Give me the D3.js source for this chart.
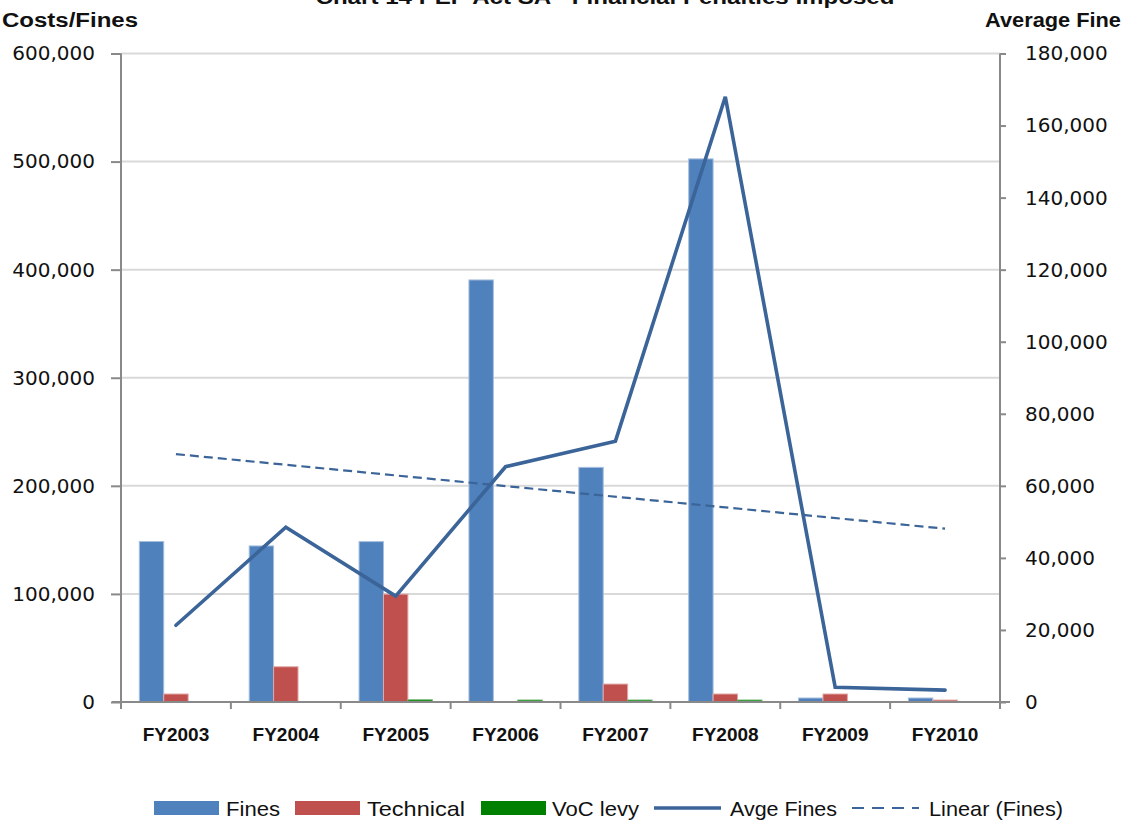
<!DOCTYPE html>
<html>
<head>
<meta charset="utf-8">
<script src="https://cdn.jsdelivr.net/npm/d3@7/dist/d3.min.js"></script>
<style>
  html, body { margin: 0; padding: 0; background: #fff; }
  svg { display: block; }
</style>
</head>
<body>
<svg id="chart" width="1127" height="825"></svg>
<script>
// Financial penalties by financial year
const categories = ["FY2003", "FY2004", "FY2005", "FY2006", "FY2007", "FY2008", "FY2009", "FY2010"];
const fines      = [148500, 144400, 148400, 390500, 217100, 502500, 3700, 3700];
const technical  = [7400, 32600, 99800, 0, 16600, 7400, 7400, 1800];
const vocLevy    = [0, 0, 2000, 1800, 1800, 1800, 0, 0];
const avgeFines  = [21300, 48500, 29400, 65300, 72400, 168000, 4100, 3300];
const leftTicks  = [0, 100000, 200000, 300000, 400000, 500000, 600000];
const rightTicks = [0, 20000, 40000, 60000, 80000, 100000, 120000, 140000, 160000, 180000];

const svg = d3.select("#chart");
const plot = { left: 121, right: 1000, top: 53.5, bottom: 702 };

const x = d3.scaleBand().domain(categories).range([plot.left, plot.right]);
const yL = d3.scaleLinear().domain([0, 600000]).range([plot.bottom, plot.top]);
const yR = d3.scaleLinear().domain([0, 180000]).range([plot.bottom, plot.top]);

const fmt = d3.format(",");
const axisGrey = "#898989";
const lineBlue = "#3B6498";

// Horizontal gridlines
svg.append("g").selectAll("line").data(leftTicks.filter(d => d > 0)).join("line")
  .attr("x1", plot.left).attr("x2", plot.right)
  .attr("y1", d => yL(d)).attr("y2", d => yL(d))
  .attr("stroke", "#D9D9D9").attr("stroke-width", 2);

// Clustered bars
const seriesList = [
  { name: "Fines", values: fines, fill: "#4F81BD", stroke: "#A7BFDE" },
  { name: "Technical", values: technical, fill: "#C0504D", stroke: "#E2A8A6" },
  { name: "VoC levy", values: vocLevy, fill: "#008000", stroke: "#66B266" }
];
const barW = x.bandwidth() / 4.5;
const groupOffset = (x.bandwidth() - barW * seriesList.length) / 2;
seriesList.forEach((s, si) => {
  svg.append("g").selectAll("rect").data(categories.map((c, i) => ({ c, v: s.values[i] })).filter(d => d.v > 0))
    .join("rect")
    .attr("x", d => x(d.c) + groupOffset + si * barW)
    .attr("width", barW)
    .attr("y", d => yL(d.v))
    .attr("height", d => yL(0) - yL(d.v))
    .attr("fill", s.fill)
    .attr("stroke", s.stroke).attr("stroke-width", 1);
});

// Axes
const leftAxis = svg.append("g").attr("transform", `translate(${plot.left},0)`)
  .call(d3.axisLeft(yL).tickValues(leftTicks).tickFormat(fmt).tickSize(10).tickPadding(16));
const rightAxis = svg.append("g").attr("transform", `translate(${plot.right},0)`)
  .call(d3.axisRight(yR).tickValues(rightTicks).tickFormat(fmt).tickSize(6).tickPadding(19));
[leftAxis, rightAxis].forEach(g => {
  g.select(".domain").attr("stroke", axisGrey).attr("stroke-width", 2);
  g.selectAll(".tick line").attr("stroke", axisGrey).attr("stroke-width", 2);
  g.selectAll(".tick text").attr("font-family", "DejaVu Sans").attr("font-size", 20).attr("fill", "#111");
});
leftAxis.select(".domain").attr("d", `M0,${plot.top}V${plot.bottom}`);
rightAxis.select(".domain").attr("d", `M0,${plot.top}V${plot.bottom}`);

// Category axis
const bottom = svg.append("g");
bottom.append("line").attr("x1", plot.left - 9).attr("x2", plot.right + 10)
  .attr("y1", plot.bottom).attr("y2", plot.bottom)
  .attr("stroke", axisGrey).attr("stroke-width", 2);
const boundaries = categories.map(c => x(c)).concat([plot.right]);
bottom.selectAll("line.tk").data(boundaries).join("line").attr("class", "tk")
  .attr("x1", d => d).attr("x2", d => d)
  .attr("y1", plot.bottom).attr("y2", plot.bottom + 7)
  .attr("stroke", axisGrey).attr("stroke-width", 2);
bottom.selectAll("text").data(categories).join("text")
  .attr("x", d => x(d) + x.bandwidth() / 2)
  .attr("y", 741)
  .attr("text-anchor", "middle")
  .attr("font-family", "Liberation Sans, Arial, sans-serif")
  .attr("font-weight", "bold").attr("font-size", 19)
  .attr("fill", "#111")
  .text(d => d);

// Linear trendline of Fines (least-squares fit over category index)
const n = fines.length;
const xs = d3.range(1, n + 1);
const mx = d3.mean(xs), my = d3.mean(fines);
const slope = d3.sum(xs, (xi, i) => (xi - mx) * (fines[i] - my)) / d3.sum(xs, xi => (xi - mx) ** 2);
const intercept = my - slope * mx;
const trend = categories.map((c, i) => ({ c, v: intercept + slope * (i + 1) }));
const cx = c => x(c) + x.bandwidth() / 2;
svg.append("path")
  .datum([trend[0], trend[n - 1]])
  .attr("d", d3.line().x(d => cx(d.c)).y(d => yL(d.v)))
  .attr("fill", "none").attr("stroke", lineBlue).attr("stroke-width", 2.2)
  .attr("stroke-dasharray", "9,5");

// Average fine line (secondary axis)
svg.append("path")
  .datum(categories.map((c, i) => ({ c, v: avgeFines[i] })))
  .attr("d", d3.line().x(d => cx(d.c)).y(d => yR(d.v)))
  .attr("fill", "none").attr("stroke", lineBlue).attr("stroke-width", 3.6)
  .attr("stroke-linejoin", "miter").attr("stroke-linecap", "round");

// Titles
svg.append("text").attr("x", 605).attr("y", 4).attr("text-anchor", "middle")
  .attr("font-family", "Liberation Sans, Arial, sans-serif").attr("font-weight", "bold")
  .attr("font-size", 21).attr("textLength", 579).attr("lengthAdjust", "spacingAndGlyphs")
  .attr("fill", "#111")
  .text("Chart 14 PEP Act SA - Financial Penalties Imposed");
svg.append("text").attr("x", 2).attr("y", 27)
  .attr("font-family", "Liberation Sans, Arial, sans-serif").attr("font-weight", "bold")
  .attr("font-size", 20).attr("textLength", 136).attr("lengthAdjust", "spacingAndGlyphs")
  .attr("fill", "#111").text("Costs/Fines");
svg.append("text").attr("x", 985).attr("y", 27)
  .attr("font-family", "Liberation Sans, Arial, sans-serif").attr("font-weight", "bold")
  .attr("font-size", 20).attr("textLength", 136).attr("lengthAdjust", "spacingAndGlyphs")
  .attr("fill", "#111").text("Average Fine");

// Legend
const legendItems = [
  { label: "Fines", kind: "rect", color: "#4F81BD", x0: 154, tx: 226, tw: 54 },
  { label: "Technical", kind: "rect", color: "#C0504D", x0: 295, tx: 367, tw: 98 },
  { label: "VoC levy", kind: "rect", color: "#008000", x0: 481, tx: 552, tw: 87 },
  { label: "Avge Fines", kind: "line", color: lineBlue, x0: 654, tx: 730, tw: 107 },
  { label: "Linear (Fines)", kind: "dash", color: lineBlue, x0: 852, tx: 929, tw: 134 }
];
const lg = svg.append("g");
legendItems.forEach(it => {
  if (it.kind === "rect") {
    lg.append("rect").attr("x", it.x0).attr("y", 801).attr("width", 65).attr("height", 14).attr("fill", it.color);
  } else {
    lg.append("line").attr("x1", it.x0).attr("x2", it.x0 + 67).attr("y1", 808).attr("y2", 808)
      .attr("stroke", it.color)
      .attr("stroke-width", it.kind === "line" ? 3.6 : 2.2)
      .attr("stroke-dasharray", it.kind === "dash" ? "12,8" : null);
  }
  lg.append("text").attr("x", it.tx).attr("y", 816)
    .attr("font-family", "Liberation Sans, Arial, sans-serif").attr("font-size", 21)
    .attr("textLength", it.tw).attr("lengthAdjust", "spacingAndGlyphs")
    .attr("fill", "#111").text(it.label);
});
</script>
</body>
</html>
